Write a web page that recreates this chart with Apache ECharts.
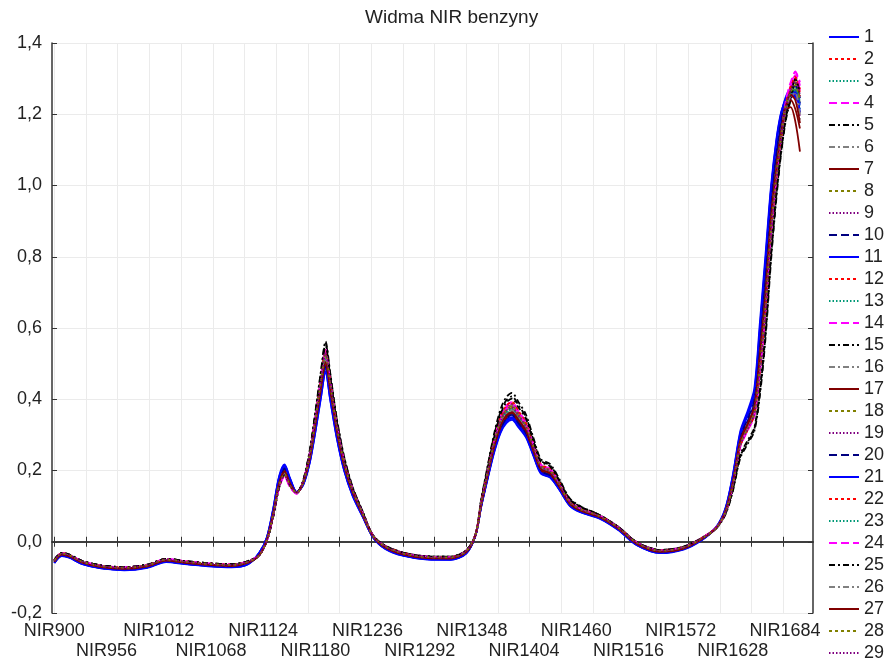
<!DOCTYPE html>
<html><head><meta charset="utf-8">
<script src="https://cdn.jsdelivr.net/npm/echarts@6/dist/echarts.min.js"></script>
<style>html,body{margin:0;padding:0;background:#fff}#c{width:890px;height:661px}</style>
</head><body><div id="c"></div>
<script>
const wavelengths = [900,908,916,930,950,975,1000,1020,1040,1065,1090,1108,1120,1128,1135,1141,1147,1153,1160,1167,1174,1180,1186,1191,1196,1203,1211,1220,1231,1242,1255,1275,1300,1325,1342,1352,1358,1365,1372,1379,1385,1391,1398,1406,1414,1422,1432,1442,1453,1465,1485,1505,1525,1550,1575,1595,1610,1620,1628,1636,1644,1651,1657,1663,1669,1675,1680,1685,1690,1695,1700];
const xTickLabels = ['NIR900','NIR956','NIR1012','NIR1068','NIR1124','NIR1180','NIR1236','NIR1292','NIR1348','NIR1404','NIR1460','NIR1516','NIR1572','NIR1628','NIR1684'];
const xTickValues = [900,934,968,1002,1036,1070,1104,1138,1172,1206,1240,1274,1308,1342,1376,1410,1444,1478,1512,1546,1580,1614,1648,1682];
const seriesNames = ['1','2','3','4','5','6','7','8','9','10','11','12','13','14','15','16','17','18','19','20','21','22','23','24','25','26','27','28','29'];

const s01 = [-0.059,-0.039,-0.044,-0.062,-0.074,-0.079,-0.072,-0.056,-0.062,-0.068,-0.071,-0.062,-0.030,0.012,0.095,0.182,0.217,0.178,0.140,0.160,0.222,0.308,0.405,0.474,0.400,0.293,0.200,0.130,0.070,0.012,-0.019,-0.039,-0.049,-0.050,-0.032,0.019,0.099,0.179,0.254,0.310,0.337,0.346,0.324,0.296,0.243,0.193,0.181,0.146,0.102,0.083,0.066,0.034,-0.009,-0.031,-0.021,0.006,0.040,0.092,0.185,0.305,0.360,0.420,0.600,0.790,0.990,1.130,1.205,1.245,1.262,1.248,1.225];
const s02 = [-0.053,-0.033,-0.038,-0.056,-0.068,-0.073,-0.066,-0.050,-0.056,-0.062,-0.065,-0.056,-0.037,0.004,0.077,0.155,0.189,0.157,0.137,0.168,0.242,0.340,0.448,0.525,0.443,0.325,0.222,0.145,0.078,0.016,-0.013,-0.033,-0.043,-0.044,-0.026,0.021,0.108,0.196,0.278,0.340,0.369,0.379,0.355,0.324,0.266,0.211,0.199,0.160,0.111,0.091,0.072,0.040,-0.003,-0.025,-0.016,0.010,0.039,0.083,0.160,0.272,0.318,0.360,0.490,0.660,0.880,1.035,1.140,1.230,1.270,1.295,1.250];
const s03 = [-0.055,-0.035,-0.040,-0.058,-0.070,-0.075,-0.068,-0.052,-0.058,-0.064,-0.067,-0.058,-0.038,0.005,0.080,0.160,0.193,0.160,0.137,0.165,0.235,0.330,0.435,0.510,0.430,0.315,0.215,0.140,0.075,0.015,-0.015,-0.035,-0.045,-0.046,-0.028,0.020,0.105,0.190,0.270,0.330,0.358,0.368,0.345,0.315,0.258,0.205,0.193,0.155,0.108,0.088,0.070,0.038,-0.005,-0.027,-0.018,0.008,0.038,0.085,0.165,0.280,0.325,0.370,0.510,0.680,0.900,1.050,1.150,1.215,1.248,1.275,1.240];
const s04 = [-0.052,-0.032,-0.037,-0.055,-0.067,-0.072,-0.065,-0.049,-0.055,-0.061,-0.064,-0.055,-0.036,0.003,0.074,0.150,0.183,0.153,0.135,0.170,0.246,0.347,0.457,0.536,0.452,0.331,0.226,0.148,0.080,0.017,-0.012,-0.032,-0.042,-0.043,-0.025,0.021,0.110,0.200,0.284,0.347,0.376,0.386,0.362,0.331,0.271,0.215,0.203,0.163,0.113,0.092,0.073,0.041,-0.002,-0.024,-0.015,0.011,0.040,0.082,0.158,0.268,0.315,0.355,0.480,0.650,0.870,1.030,1.140,1.235,1.280,1.310,1.265];
const s05 = [-0.051,-0.031,-0.036,-0.054,-0.066,-0.071,-0.064,-0.048,-0.054,-0.060,-0.063,-0.054,-0.036,0.002,0.072,0.150,0.187,0.158,0.138,0.172,0.254,0.360,0.474,0.556,0.470,0.344,0.236,0.153,0.083,0.018,-0.011,-0.031,-0.041,-0.042,-0.024,0.022,0.117,0.211,0.300,0.366,0.397,0.408,0.383,0.350,0.286,0.228,0.214,0.172,0.120,0.098,0.075,0.042,-0.001,-0.023,-0.014,0.011,0.038,0.078,0.145,0.240,0.280,0.315,0.420,0.580,0.800,0.980,1.100,1.190,1.245,1.300,1.275];
const s06 = [-0.053,-0.033,-0.038,-0.056,-0.068,-0.073,-0.066,-0.050,-0.056,-0.062,-0.065,-0.056,-0.037,0.004,0.077,0.155,0.189,0.157,0.137,0.168,0.242,0.342,0.450,0.530,0.445,0.326,0.222,0.145,0.078,0.016,-0.013,-0.033,-0.043,-0.044,-0.026,0.021,0.108,0.197,0.280,0.343,0.373,0.384,0.358,0.326,0.267,0.212,0.200,0.160,0.111,0.091,0.072,0.040,-0.003,-0.025,-0.016,0.010,0.039,0.083,0.160,0.272,0.318,0.360,0.490,0.660,0.880,1.035,1.140,1.220,1.255,1.280,1.230];
const s07 = [-0.055,-0.035,-0.040,-0.058,-0.070,-0.075,-0.068,-0.052,-0.058,-0.064,-0.067,-0.058,-0.038,0.006,0.082,0.162,0.196,0.162,0.138,0.164,0.232,0.325,0.428,0.500,0.424,0.311,0.213,0.139,0.074,0.015,-0.015,-0.035,-0.045,-0.046,-0.028,0.020,0.104,0.188,0.266,0.325,0.353,0.362,0.340,0.311,0.255,0.203,0.191,0.154,0.107,0.087,0.070,0.038,-0.005,-0.027,-0.018,0.008,0.038,0.086,0.168,0.284,0.330,0.376,0.520,0.690,0.905,1.050,1.145,1.210,1.220,1.180,1.095];
const s08 = [-0.053,-0.033,-0.038,-0.056,-0.068,-0.073,-0.066,-0.050,-0.056,-0.062,-0.065,-0.056,-0.037,0.004,0.077,0.155,0.189,0.157,0.137,0.167,0.240,0.337,0.444,0.520,0.440,0.323,0.221,0.144,0.077,0.016,-0.013,-0.033,-0.043,-0.044,-0.026,0.021,0.107,0.194,0.276,0.337,0.366,0.375,0.352,0.322,0.264,0.210,0.198,0.159,0.110,0.090,0.072,0.040,-0.003,-0.025,-0.016,0.010,0.039,0.083,0.161,0.274,0.320,0.362,0.495,0.665,0.885,1.040,1.142,1.225,1.262,1.270,1.228];
const s09 = [-0.053,-0.033,-0.038,-0.056,-0.068,-0.073,-0.066,-0.050,-0.056,-0.062,-0.065,-0.056,-0.037,0.004,0.076,0.153,0.187,0.156,0.137,0.168,0.242,0.341,0.450,0.528,0.445,0.326,0.223,0.145,0.078,0.016,-0.013,-0.033,-0.043,-0.044,-0.026,0.021,0.107,0.194,0.275,0.335,0.363,0.372,0.350,0.320,0.262,0.209,0.197,0.158,0.110,0.090,0.072,0.040,-0.003,-0.025,-0.016,0.010,0.039,0.083,0.160,0.272,0.318,0.360,0.490,0.660,0.880,1.035,1.140,1.220,1.250,1.262,1.200];
const s10 = [-0.058,-0.038,-0.043,-0.061,-0.073,-0.078,-0.071,-0.055,-0.061,-0.067,-0.070,-0.061,-0.034,0.008,0.086,0.169,0.203,0.168,0.138,0.162,0.227,0.318,0.418,0.490,0.413,0.302,0.206,0.134,0.072,0.013,-0.018,-0.038,-0.048,-0.049,-0.031,0.019,0.101,0.182,0.259,0.317,0.344,0.353,0.331,0.302,0.248,0.197,0.185,0.149,0.104,0.084,0.067,0.035,-0.008,-0.030,-0.020,0.007,0.039,0.089,0.175,0.292,0.340,0.390,0.550,0.730,0.950,1.090,1.180,1.232,1.258,1.265,1.230];
const s11 = [-0.059,-0.039,-0.044,-0.062,-0.074,-0.079,-0.072,-0.056,-0.062,-0.068,-0.071,-0.062,-0.031,0.011,0.092,0.177,0.210,0.174,0.139,0.161,0.225,0.313,0.415,0.485,0.408,0.298,0.203,0.132,0.071,0.013,-0.019,-0.039,-0.049,-0.050,-0.032,0.019,0.100,0.181,0.257,0.313,0.340,0.350,0.328,0.299,0.245,0.195,0.183,0.147,0.103,0.084,0.066,0.034,-0.009,-0.031,-0.021,0.006,0.040,0.091,0.182,0.300,0.355,0.412,0.590,0.780,0.985,1.125,1.200,1.250,1.270,1.255,1.230];
const s12 = [-0.053,-0.033,-0.038,-0.056,-0.068,-0.073,-0.066,-0.050,-0.056,-0.062,-0.065,-0.056,-0.037,0.004,0.077,0.155,0.189,0.157,0.137,0.169,0.245,0.345,0.455,0.538,0.452,0.330,0.226,0.147,0.079,0.016,-0.013,-0.033,-0.043,-0.044,-0.026,0.021,0.109,0.199,0.283,0.347,0.377,0.388,0.362,0.330,0.270,0.214,0.201,0.162,0.112,0.091,0.072,0.040,-0.003,-0.025,-0.016,0.010,0.039,0.083,0.159,0.270,0.316,0.358,0.485,0.655,0.875,1.032,1.140,1.228,1.275,1.300,1.260];
const s13 = [-0.055,-0.035,-0.040,-0.058,-0.070,-0.075,-0.068,-0.052,-0.058,-0.064,-0.067,-0.058,-0.038,0.005,0.081,0.161,0.195,0.161,0.137,0.165,0.236,0.331,0.437,0.512,0.432,0.316,0.216,0.141,0.075,0.015,-0.015,-0.035,-0.045,-0.046,-0.028,0.020,0.105,0.191,0.271,0.332,0.360,0.370,0.347,0.316,0.259,0.206,0.194,0.156,0.108,0.088,0.070,0.038,-0.005,-0.027,-0.018,0.008,0.038,0.085,0.166,0.281,0.326,0.372,0.512,0.682,0.902,1.052,1.150,1.220,1.258,1.268,1.215];
const s14 = [-0.052,-0.032,-0.037,-0.055,-0.067,-0.072,-0.065,-0.049,-0.055,-0.061,-0.064,-0.055,-0.036,0.003,0.074,0.151,0.185,0.154,0.135,0.170,0.247,0.349,0.460,0.540,0.455,0.333,0.227,0.149,0.080,0.017,-0.012,-0.032,-0.042,-0.043,-0.025,0.021,0.111,0.203,0.288,0.352,0.382,0.392,0.367,0.335,0.274,0.217,0.205,0.165,0.114,0.093,0.073,0.041,-0.002,-0.024,-0.015,0.011,0.040,0.082,0.157,0.266,0.312,0.352,0.475,0.645,0.865,1.025,1.138,1.230,1.272,1.320,1.290];
const s15 = [-0.051,-0.031,-0.036,-0.054,-0.066,-0.071,-0.064,-0.048,-0.054,-0.060,-0.063,-0.054,-0.036,0.002,0.073,0.151,0.189,0.159,0.138,0.173,0.256,0.363,0.478,0.562,0.474,0.347,0.238,0.154,0.084,0.018,-0.011,-0.031,-0.041,-0.042,-0.024,0.022,0.119,0.214,0.305,0.374,0.406,0.418,0.392,0.357,0.292,0.232,0.218,0.175,0.122,0.099,0.075,0.042,-0.001,-0.023,-0.014,0.011,0.037,0.076,0.142,0.235,0.275,0.310,0.410,0.570,0.790,0.972,1.095,1.185,1.240,1.285,1.250];
const s16 = [-0.054,-0.034,-0.039,-0.057,-0.069,-0.074,-0.067,-0.051,-0.057,-0.063,-0.066,-0.057,-0.037,0.005,0.078,0.157,0.190,0.158,0.137,0.166,0.238,0.334,0.440,0.515,0.436,0.319,0.218,0.142,0.076,0.015,-0.014,-0.034,-0.044,-0.045,-0.027,0.020,0.106,0.192,0.272,0.332,0.360,0.370,0.348,0.318,0.260,0.207,0.195,0.157,0.109,0.089,0.071,0.039,-0.004,-0.026,-0.017,0.009,0.038,0.084,0.163,0.277,0.322,0.366,0.500,0.670,0.892,1.045,1.145,1.218,1.250,1.262,1.185];
const s17 = [-0.056,-0.036,-0.041,-0.059,-0.071,-0.076,-0.069,-0.053,-0.059,-0.065,-0.068,-0.059,-0.037,0.006,0.083,0.164,0.199,0.164,0.138,0.164,0.231,0.323,0.425,0.498,0.422,0.309,0.211,0.138,0.074,0.014,-0.016,-0.036,-0.046,-0.047,-0.029,0.020,0.103,0.186,0.264,0.322,0.350,0.360,0.337,0.308,0.252,0.201,0.189,0.152,0.106,0.087,0.069,0.037,-0.006,-0.028,-0.019,0.008,0.038,0.087,0.170,0.286,0.332,0.380,0.528,0.700,0.915,1.060,1.155,1.222,1.240,1.215,1.160];
const s18 = [-0.053,-0.033,-0.038,-0.056,-0.068,-0.073,-0.066,-0.050,-0.056,-0.062,-0.065,-0.056,-0.037,0.004,0.078,0.156,0.190,0.158,0.137,0.168,0.243,0.343,0.452,0.532,0.447,0.327,0.224,0.146,0.078,0.016,-0.013,-0.033,-0.043,-0.044,-0.026,0.021,0.108,0.196,0.279,0.341,0.370,0.380,0.356,0.325,0.266,0.211,0.199,0.160,0.111,0.091,0.072,0.040,-0.003,-0.025,-0.016,0.010,0.039,0.083,0.160,0.271,0.317,0.359,0.488,0.658,0.878,1.034,1.140,1.225,1.268,1.290,1.245];
const s19 = [-0.053,-0.033,-0.038,-0.056,-0.068,-0.073,-0.066,-0.050,-0.056,-0.062,-0.065,-0.056,-0.037,0.004,0.076,0.154,0.188,0.157,0.137,0.167,0.241,0.338,0.446,0.522,0.441,0.323,0.221,0.144,0.077,0.016,-0.013,-0.033,-0.043,-0.044,-0.026,0.021,0.109,0.199,0.282,0.345,0.375,0.386,0.360,0.328,0.269,0.213,0.201,0.161,0.112,0.092,0.072,0.040,-0.003,-0.025,-0.016,0.010,0.039,0.083,0.160,0.272,0.318,0.360,0.490,0.660,0.880,1.035,1.138,1.215,1.245,1.255,1.190];
const s20 = [-0.058,-0.038,-0.043,-0.061,-0.073,-0.078,-0.071,-0.055,-0.061,-0.067,-0.070,-0.061,-0.034,0.008,0.087,0.171,0.206,0.170,0.139,0.163,0.229,0.321,0.423,0.495,0.418,0.305,0.208,0.136,0.073,0.013,-0.018,-0.038,-0.048,-0.049,-0.031,0.019,0.101,0.183,0.260,0.318,0.346,0.356,0.333,0.304,0.249,0.198,0.186,0.150,0.104,0.085,0.067,0.035,-0.008,-0.030,-0.020,0.007,0.039,0.090,0.178,0.296,0.345,0.398,0.560,0.740,0.958,1.095,1.185,1.238,1.265,1.280,1.245];
const s21 = [-0.060,-0.040,-0.045,-0.063,-0.075,-0.080,-0.073,-0.057,-0.063,-0.069,-0.072,-0.063,-0.030,0.012,0.094,0.180,0.214,0.176,0.140,0.159,0.221,0.307,0.403,0.478,0.398,0.291,0.199,0.129,0.069,0.012,-0.020,-0.040,-0.050,-0.051,-0.033,0.018,0.098,0.177,0.251,0.307,0.333,0.342,0.321,0.293,0.241,0.191,0.180,0.145,0.101,0.082,0.065,0.033,-0.010,-0.032,-0.022,0.005,0.041,0.094,0.188,0.310,0.368,0.430,0.615,0.805,1.000,1.135,1.208,1.238,1.252,1.262,1.205];
const s22 = [-0.052,-0.032,-0.037,-0.055,-0.067,-0.072,-0.065,-0.049,-0.055,-0.061,-0.064,-0.055,-0.037,0.004,0.076,0.153,0.187,0.156,0.136,0.169,0.244,0.344,0.454,0.535,0.450,0.329,0.225,0.147,0.079,0.017,-0.012,-0.032,-0.042,-0.043,-0.025,0.021,0.111,0.202,0.287,0.352,0.382,0.392,0.367,0.334,0.274,0.217,0.205,0.165,0.114,0.093,0.073,0.041,-0.002,-0.024,-0.015,0.011,0.040,0.082,0.158,0.269,0.315,0.356,0.484,0.652,0.872,1.030,1.138,1.232,1.278,1.305,1.270];
const s23 = [-0.054,-0.034,-0.039,-0.057,-0.069,-0.074,-0.067,-0.051,-0.057,-0.063,-0.066,-0.057,-0.037,0.005,0.078,0.157,0.191,0.158,0.137,0.166,0.239,0.336,0.442,0.518,0.438,0.321,0.220,0.143,0.077,0.016,-0.014,-0.034,-0.044,-0.045,-0.027,0.021,0.107,0.194,0.275,0.336,0.364,0.374,0.351,0.320,0.263,0.209,0.197,0.158,0.110,0.090,0.071,0.039,-0.004,-0.026,-0.017,0.009,0.038,0.084,0.162,0.275,0.320,0.364,0.496,0.666,0.886,1.040,1.143,1.222,1.258,1.272,1.232];
const s24 = [-0.052,-0.032,-0.037,-0.055,-0.067,-0.072,-0.065,-0.049,-0.055,-0.061,-0.064,-0.055,-0.036,0.003,0.075,0.151,0.184,0.154,0.135,0.169,0.245,0.344,0.452,0.532,0.449,0.329,0.225,0.147,0.079,0.017,-0.012,-0.032,-0.042,-0.043,-0.025,0.021,0.109,0.198,0.281,0.344,0.373,0.383,0.359,0.328,0.269,0.213,0.201,0.162,0.112,0.091,0.073,0.041,-0.002,-0.024,-0.015,0.011,0.040,0.082,0.159,0.270,0.316,0.357,0.483,0.653,0.873,1.033,1.142,1.240,1.290,1.318,1.280];
const s25 = [-0.051,-0.031,-0.036,-0.054,-0.066,-0.071,-0.064,-0.048,-0.054,-0.060,-0.063,-0.054,-0.036,0.003,0.073,0.151,0.188,0.158,0.138,0.171,0.251,0.356,0.468,0.550,0.465,0.340,0.233,0.151,0.082,0.018,-0.011,-0.031,-0.041,-0.042,-0.024,0.022,0.115,0.207,0.295,0.360,0.391,0.402,0.377,0.345,0.282,0.225,0.211,0.170,0.118,0.097,0.075,0.042,-0.001,-0.023,-0.014,0.011,0.038,0.079,0.148,0.245,0.285,0.320,0.428,0.590,0.810,0.988,1.105,1.195,1.255,1.298,1.262];
const s26 = [-0.055,-0.035,-0.040,-0.058,-0.070,-0.075,-0.068,-0.052,-0.058,-0.064,-0.067,-0.058,-0.038,0.005,0.081,0.162,0.195,0.161,0.137,0.165,0.234,0.329,0.433,0.508,0.428,0.314,0.214,0.140,0.075,0.015,-0.015,-0.035,-0.045,-0.046,-0.028,0.020,0.105,0.189,0.269,0.329,0.357,0.366,0.344,0.314,0.257,0.205,0.193,0.155,0.108,0.088,0.070,0.038,-0.005,-0.027,-0.018,0.008,0.038,0.085,0.166,0.282,0.327,0.373,0.514,0.685,0.903,1.052,1.150,1.218,1.250,1.260,1.200];
const s27 = [-0.056,-0.036,-0.041,-0.059,-0.071,-0.076,-0.069,-0.053,-0.059,-0.065,-0.068,-0.059,-0.037,0.006,0.082,0.163,0.197,0.163,0.138,0.165,0.233,0.327,0.430,0.504,0.426,0.312,0.213,0.139,0.074,0.015,-0.016,-0.036,-0.046,-0.047,-0.029,0.020,0.104,0.188,0.267,0.327,0.355,0.364,0.342,0.312,0.256,0.204,0.192,0.154,0.107,0.087,0.069,0.037,-0.006,-0.028,-0.019,0.008,0.038,0.086,0.168,0.284,0.330,0.377,0.522,0.695,0.910,1.055,1.152,1.225,1.255,1.240,1.175];
const s28 = [-0.053,-0.033,-0.038,-0.056,-0.068,-0.073,-0.066,-0.050,-0.056,-0.062,-0.065,-0.056,-0.037,0.004,0.077,0.156,0.190,0.157,0.137,0.168,0.242,0.340,0.449,0.527,0.444,0.325,0.222,0.145,0.078,0.016,-0.013,-0.033,-0.043,-0.044,-0.026,0.021,0.108,0.197,0.280,0.342,0.371,0.381,0.356,0.325,0.267,0.212,0.200,0.160,0.111,0.091,0.072,0.040,-0.003,-0.025,-0.016,0.010,0.039,0.083,0.160,0.272,0.318,0.360,0.490,0.660,0.880,1.036,1.141,1.228,1.262,1.282,1.238];
const s29 = [-0.053,-0.033,-0.038,-0.056,-0.068,-0.073,-0.066,-0.050,-0.056,-0.062,-0.065,-0.056,-0.037,0.004,0.076,0.154,0.188,0.157,0.137,0.168,0.243,0.342,0.451,0.530,0.446,0.326,0.223,0.146,0.078,0.016,-0.013,-0.033,-0.043,-0.044,-0.026,0.021,0.108,0.196,0.278,0.340,0.368,0.377,0.354,0.323,0.265,0.210,0.198,0.159,0.111,0.091,0.072,0.040,-0.003,-0.025,-0.016,0.010,0.039,0.083,0.160,0.271,0.317,0.359,0.488,0.658,0.878,1.034,1.140,1.225,1.268,1.292,1.255];

const allSeries = [s01,s02,s03,s04,s05,s06,s07,s08,s09,s10,s11,s12,s13,s14,s15,s16,s17,s18,s19,s20,s21,s22,s23,s24,s25,s26,s27,s28,s29];

const styleCycle = [
  {color:'#0000ff', type:'solid'},
  {color:'#ff0000', type:[3,3]},
  {color:'#009977', type:[1.5,2]},
  {color:'#ff00ff', type:[8,4]},
  {color:'#000000', type:[6,3,2,3]},
  {color:'#808080', type:[6,3,2,3]},
  {color:'#800000', type:'solid'},
  {color:'#808000', type:[3,3]},
  {color:'#800080', type:[1.5,2]},
  {color:'#000080', type:[8,4]}
];

const FONT = 'Liberation Sans, Arial, sans-serif';
const xLabelValues = xTickLabels.map(s => Number(s.slice(3)));
const xLabelsTop = xLabelValues.filter((v, i) => i % 2 === 0);
const xLabelsBottom = xLabelValues.filter((v, i) => i % 2 === 1);
const labelFor = (v) => xTickLabels[xLabelValues.indexOf(v)];

const chart = echarts.init(document.getElementById('c'), null, {renderer:'canvas'});
const axisLine = {show:true, lineStyle:{color:'#333', width:1.5}};
const labelStyle = {fontFamily:FONT, fontSize:18, color:'#222', margin:8, lineHeight:20,
  showMinLabel:true, showMaxLabel:true, hideOverlap:false, formatter:labelFor};
const option = {
  animation:false,
  backgroundColor:'#ffffff',
  title:{text:'Widma NIR benzyny', left:365, top:8, padding:0,
    textStyle:{fontFamily:FONT, fontSize:19, fontWeight:'normal', color:'#222'}},
  legend:{orient:'vertical', left:828, top:28, height:640, padding:0, itemWidth:30, itemHeight:14, itemGap:4,
    itemStyle:{opacity:0},
    textStyle:{fontFamily:FONT, fontSize:18, color:'#222'},
    data:seriesNames},
  grid:{left:52, top:43, width:761, height:570},
  xAxis:[
    {type:'value', min:897.5, max:1714, position:'bottom', axisLine:axisLine,
     axisTick:{show:true, inside:true, length:5, customValues:xTickValues, lineStyle:{color:'#333'}},
     axisLabel:Object.assign({customValues:xLabelsTop}, labelStyle),
     splitLine:{show:true, lineStyle:{color:'#ebebeb', width:1}}},
    {type:'value', min:897.5, max:1714, position:'top', axisLine:axisLine,
     axisTick:{show:true, inside:true, length:5, customValues:xTickValues, lineStyle:{color:'#333'}},
     axisLabel:{show:false}, splitLine:{show:false}},
    {type:'value', min:897.5, max:1714, position:'bottom', offset:20,
     axisLine:{show:false}, axisTick:{show:false},
     axisLabel:Object.assign({customValues:xLabelsBottom}, labelStyle),
     splitLine:{show:false}}
  ],
  yAxis:[
    {type:'value', min:-0.2, max:1.4, interval:0.2, position:'left', axisLine:axisLine,
     axisTick:{show:true, inside:true, length:5, lineStyle:{color:'#333'}},
     axisLabel:{fontFamily:FONT, fontSize:18, color:'#222', margin:10,
       formatter:(v)=>v.toFixed(1).replace('.', ',')},
     splitLine:{show:true, lineStyle:{color:'#ebebeb', width:1}}},
    {type:'value', min:-0.2, max:1.4, interval:0.2, position:'right', axisLine:axisLine,
     axisTick:{show:true, inside:true, length:5, lineStyle:{color:'#333'}},
     axisLabel:{show:false}, splitLine:{show:false}}
  ],
  series: allSeries.map((vals, k) => {
    const st = styleCycle[k % 10];
    return {
      name: seriesNames[k], type:'line', xAxisIndex:0, yAxisIndex:0,
      symbol:'none', smooth:0.3,
      data: wavelengths.map((w, i) => [w, vals[i]]),
      itemStyle:{color:st.color},
      lineStyle:{color:st.color, width:1.8, type:st.type}
    };
  })
};
chart.setOption(option);
</script>
</body></html>
